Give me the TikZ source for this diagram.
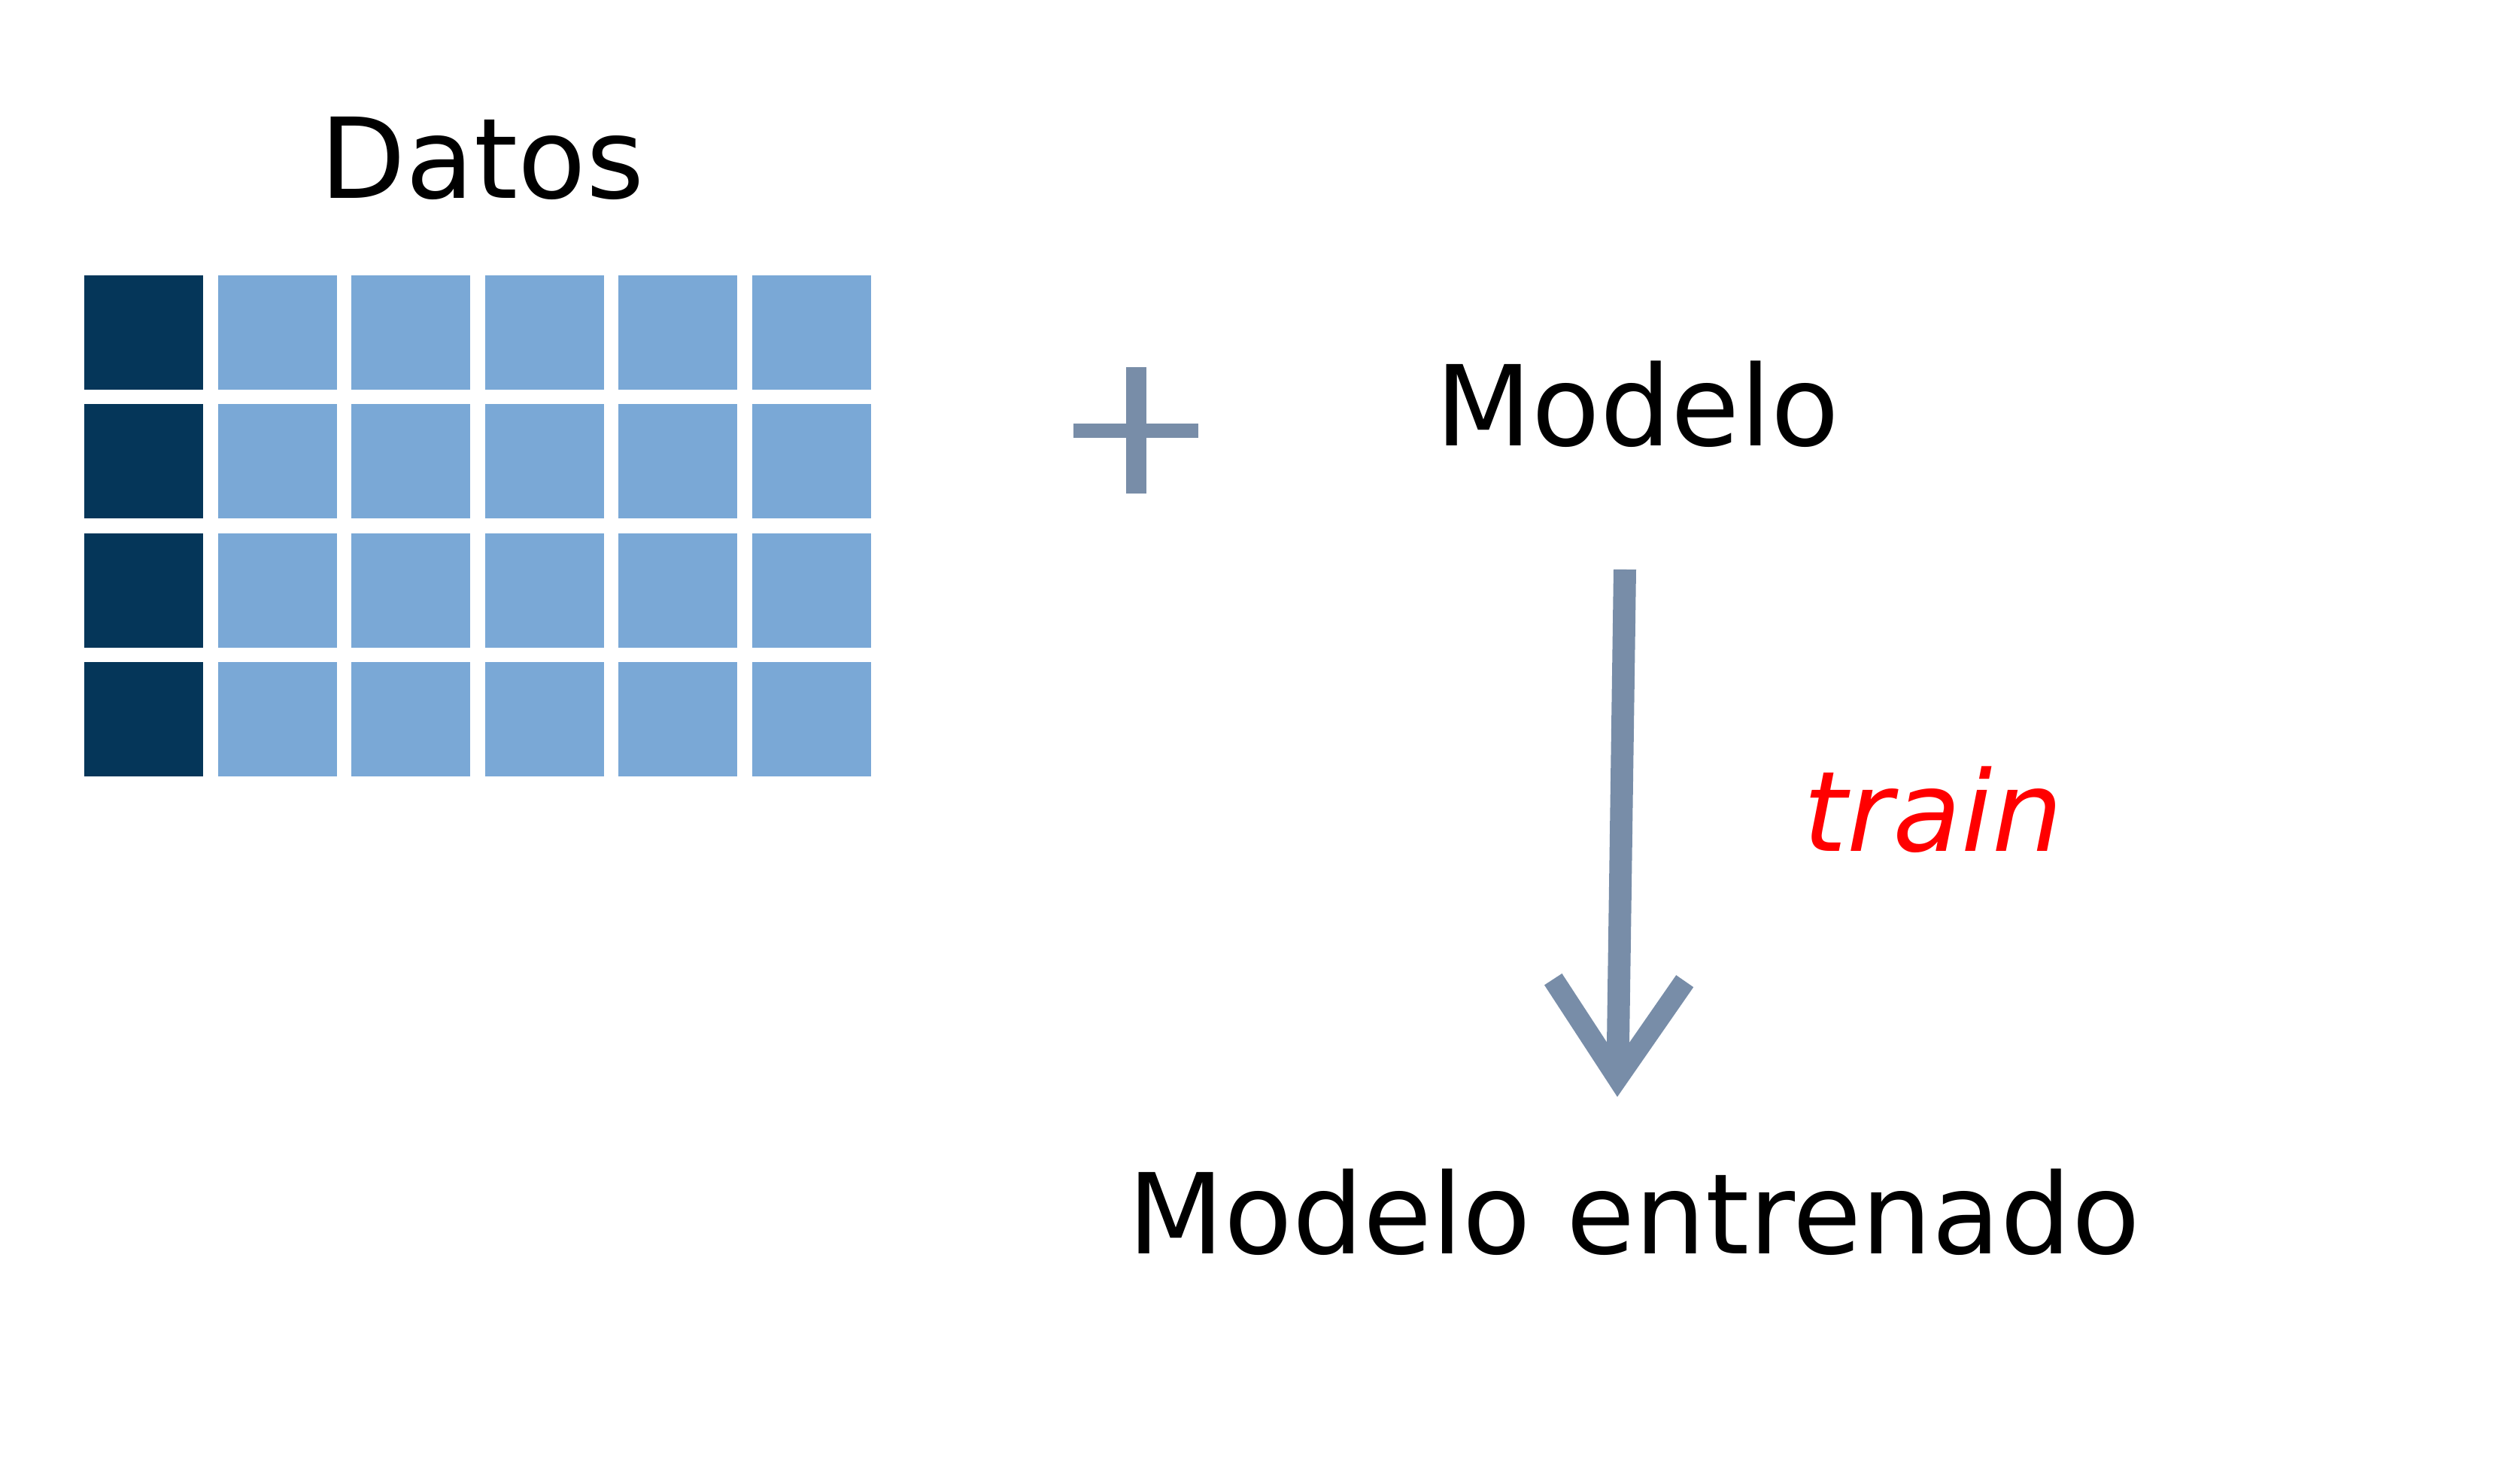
\documentclass[tikz,border=0pt]{standalone}
\usepackage{fontspec}
\setmainfont{DejaVu Sans}
\usetikzlibrary{arrows.meta}
\definecolor{darknavy}{RGB}{5,54,89}
\definecolor{cellblue}{RGB}{122,168,214}
\definecolor{slategrey}{RGB}{120,141,168}

\begin{document}
\begin{tikzpicture}[cell_node/.style={rectangle,inner sep=0pt,minimum width=1.58cm,minimum height=1.52cm,fill=cellblue},
    label_node/.style={inner sep=0pt,anchor=base,font=\fontsize{42.2}{50}\selectfont},
    train_arrow/.style={slategrey,line width=0.3cm,-{Straight Barb[length=1.3cm,width=1.75cm,line width=0.28cm]}}]

    \useasboundingbox (0,0) rectangle (33.5,19.38);

    % data table
    \node[label_node] (datos) at (6.41,16.74) {Datos};
    \foreach \r in {0,...,3}{
        \node[cell_node, fill=darknavy] (cell-\r-0) at (1.91,14.96-1.713*\r) {};
        \foreach \c in {1,...,5}
            \node[cell_node] (cell-\r-\c) at (1.91+1.776*\c,14.96-1.713*\r) {};
    }

    % plus sign
    \fill[slategrey] (14.27,13.56) rectangle (15.93,13.75);
    \fill[slategrey] (14.965,12.82) rectangle (15.235,14.50);

    \node[label_node] (modelo) at (21.77,13.45) {Modelo};
    \node[label_node, red, font=\fontsize{42.2}{50}\selectfont\itshape] (train) at (25.70,8.06) {train};
    \node[label_node] (entrenado) at (21.72,2.71) {Modelo entrenado};

    \coordinate (arrow_top) at (21.60,11.81);
    \coordinate (arrow_tip) at (21.50,4.80);
    \draw[train_arrow] (arrow_top) -- (arrow_tip);

\end{tikzpicture}
\end{document}
